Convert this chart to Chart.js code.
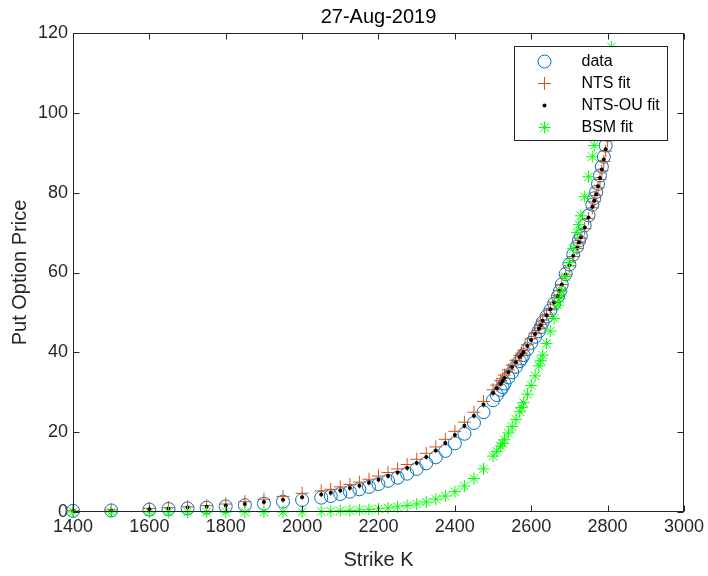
<!DOCTYPE html>
<html>
<head>
<meta charset="utf-8">
<script src="https://cdn.jsdelivr.net/npm/chart.js@4.4.1/dist/chart.umd.min.js"></script>
<style>
html,body{margin:0;padding:0;background:#fff}
</style>
</head>
<body>
<canvas id="c" width="708" height="576"></canvas>
<script>
// strikes (x) and put prices
var strikes=[1400,1500,1600,1650,1700,1750,1800,1850,1900,1950,2000,2050,2075,2100,2125,2150,2175,2200,2225,2250,2275,2300,2325,2350,2375,2400,2425,2450,2475,2500,2510,2520,2525,2530,2540,2550,2560,2570,2575,2580,2590,2600,2610,2620,2625,2630,2640,2650,2660,2670,2675,2680,2690,2700,2710,2720,2725,2730,2740,2750,2760,2765,2770,2775,2780,2785,2790,2795,2800,2805,2810];
var dataPrice=[0.3,0.4,0.6,0.75,0.9,1.1,1.4,1.7,2.1,2.6,3.0,3.6,4.0,4.5,5.1,5.7,6.3,7.0,7.8,8.6,9.6,10.8,12.2,13.7,15.3,17.2,19.6,22.3,25.0,28.0,29.3,30.6,31.3,32.2,33.7,35.0,36.4,37.8,38.5,39.3,40.8,42.4,43.9,45.3,46.3,47.5,49.0,50.5,52.2,54.0,55.3,57.0,59.6,62.0,64.5,66.5,68.0,69.2,71.8,74.3,77.0,78.6,80.2,82.2,84.3,86.5,89.0,91.8,94.5,97.2,100.0];
var ntsFit=[0.3,0.5,0.9,1.1,1.3,1.6,2.0,2.6,3.2,3.9,4.7,5.3,5.7,6.3,6.9,7.5,8.2,9.0,9.9,10.8,11.9,13.2,14.7,16.3,18.2,20.2,22.5,25.0,27.7,30.6,31.8,32.9,33.5,34.3,35.6,36.8,38.0,39.2,39.8,40.5,41.9,43.4,44.8,46.1,47.0,48.1,49.5,51.0,52.6,54.3,55.5,57.0,59.4,61.7,64.0,66.0,67.4,68.6,71.0,73.5,76.2,77.7,79.3,81.2,83.3,85.4,87.8,90.4,93.0,95.6,98.3];
var ntsouFit=[0.3,0.4,0.7,0.9,1.1,1.3,1.6,2.0,2.5,3.1,3.7,4.4,4.8,5.4,6.0,6.6,7.3,8.1,9.0,9.9,11.0,12.3,13.8,15.4,17.3,19.3,21.6,24.1,26.9,29.8,31.0,32.1,32.8,33.6,35.0,36.3,37.5,38.8,39.4,40.1,41.6,43.1,44.6,45.9,46.8,47.9,49.3,50.8,52.5,54.2,55.4,57.0,59.5,61.9,64.2,66.2,67.6,68.8,71.3,73.8,76.5,78.0,79.6,81.6,83.7,85.8,88.3,90.9,93.5,96.2,98.8];
var bsmFit=[0,0,0,0,0,0,0,0,0,0,0.05,0.15,0.2,0.3,0.4,0.5,0.6,0.8,1.0,1.3,1.6,2.0,2.5,3.2,4.0,5.1,6.5,8.4,10.8,14.0,15.2,16.5,17.2,18.1,19.8,21.4,23.2,25.1,26.2,27.4,29.5,31.7,34.1,36.6,37.9,39.3,42.2,45.3,48.5,51.8,53.5,55.3,59.0,62.5,66.0,70.0,72.0,74.2,79.0,84.0,89.0,91.8,94.5,97.3,100.2,103.0,106.0,109.0,112.0,114.5,116.5];
var xTicks=[1400,1600,1800,2000,2200,2400,2600,2800,3000];
var yTicks=[0,20,40,60,80,100,120];
var seriesNames=['data','NTS fit','NTS-OU fit','BSM fit'];

var axisCol='#262626';
var fontFam='"Liberation Sans", Arial, Helvetica, sans-serif';

function pts(ys){
  var out=[];
  for(var i=0;i<strikes.length;i++) out.push({x:strikes[i],y:ys[i]});
  return out;
}

// draws one legend marker like the dataset's point style
function drawMarker(ctx,kind,x,y){
  ctx.beginPath();
  if(kind==0){ ctx.strokeStyle='#0072BD'; ctx.arc(x,y,6.5,0,Math.PI*2); ctx.stroke(); }
  else if(kind==1){ ctx.strokeStyle='#D95319'; ctx.moveTo(x-6.5,y); ctx.lineTo(x+6.5,y); ctx.moveTo(x,y-6.5); ctx.lineTo(x,y+6.5); ctx.stroke(); }
  else if(kind==2){ ctx.fillStyle='#000'; ctx.arc(x,y,2,0,Math.PI*2); ctx.fill(); }
  else { ctx.strokeStyle='#00FF00'; var d=6*Math.SQRT1_2;
    ctx.moveTo(x-6,y); ctx.lineTo(x+6,y); ctx.moveTo(x,y-6); ctx.lineTo(x,y+6);
    ctx.moveTo(x-d,y-d); ctx.lineTo(x+d,y+d); ctx.moveTo(x-d,y+d); ctx.lineTo(x+d,y-d); ctx.stroke(); }
}

// box, inward ticks and the boxed legend (matlab look)
var matlabAxes={
  id:'matlabAxes',
  afterDatasetsDraw:function(chart){
    var ctx=chart.ctx, a=chart.chartArea, xs=chart.scales.x, ys=chart.scales.y;
    var L=Math.round(a.left)+0.5, R=Math.round(a.right)-0.5, T=Math.round(a.top)+0.5, B=Math.round(a.bottom)-0.5;
    ctx.save();
    ctx.strokeStyle=axisCol; ctx.lineWidth=1;
    ctx.strokeRect(L,T,R-L,B-T);
    ctx.beginPath();
    xTicks.forEach(function(v){
      var p=Math.round(xs.getPixelForValue(v))+0.5;
      ctx.moveTo(p,B); ctx.lineTo(p,B-6);
      ctx.moveTo(p,T); ctx.lineTo(p,T+6);
    });
    yTicks.forEach(function(v){
      var p=Math.round(ys.getPixelForValue(v))+0.5;
      ctx.moveTo(L,p); ctx.lineTo(L+6,p);
      ctx.moveTo(R,p); ctx.lineTo(R-6,p);
    });
    ctx.stroke();

    // legend
    var bx=Math.round(a.right)-169.5, by=Math.round(a.top)+13.5, bw=153, bh=94;
    ctx.fillStyle='#fff';
    ctx.fillRect(bx,by,bw,bh);
    ctx.strokeStyle=axisCol;
    ctx.strokeRect(bx,by,bw,bh);
    ctx.font='16px '+fontFam;
    ctx.textBaseline='middle';
    ctx.textAlign='left';
    for(var i=0;i<seriesNames.length;i++){
      var yy=by+15+i*22;
      ctx.lineWidth=1;
      drawMarker(ctx,i,bx+30,yy);
      ctx.fillStyle='#000';
      ctx.fillText(seriesNames[i],bx+67,yy);
    }
    ctx.restore();
  }
};

function plainTick(v){ return String(v); }

new Chart(document.getElementById('c'),{
  type:'scatter',
  data:{
    datasets:[
      {label:seriesNames[0],data:pts(dataPrice),pointStyle:'circle',pointRadius:6.5,backgroundColor:'rgba(0,0,0,0)',borderColor:'#0072BD',borderWidth:1,order:4,clip:false},
      {label:seriesNames[1],data:pts(ntsFit),pointStyle:'cross',pointRadius:6.5,backgroundColor:'#D95319',borderColor:'#D95319',borderWidth:1,order:3,clip:false},
      {label:seriesNames[2],data:pts(ntsouFit),pointStyle:'circle',pointRadius:2,backgroundColor:'#000',borderColor:'#000',borderWidth:0,order:2,clip:false},
      {label:seriesNames[3],data:pts(bsmFit),pointStyle:'star',pointRadius:6,backgroundColor:'#00FF00',borderColor:'#00FF00',borderWidth:1,order:1,clip:false}
    ]
  },
  options:{
    responsive:false,
    animation:false,
    layout:{padding:{left:0,right:23,top:0,bottom:0}},
    plugins:{
      legend:{display:false},
      tooltip:{enabled:false},
      title:{display:true,fullSize:false,text:'27-Aug-2019',color:'#000',font:{family:fontFam,size:20,weight:'normal'},padding:{top:5,bottom:4}}
    },
    scales:{
      x:{
        type:'linear',min:1400,max:3000,
        afterFit:function(s){s.height=64;},
        afterBuildTicks:function(s){s.ticks=xTicks.map(function(v){return {value:v};});},
        grid:{display:false,drawTicks:false},
        border:{display:false},
        ticks:{color:axisCol,padding:4,font:{family:fontFam,size:18},maxRotation:0,callback:plainTick},
        title:{display:true,text:'Strike K',color:axisCol,font:{family:fontFam,size:20},padding:{top:0,bottom:4}}
      },
      y:{
        type:'linear',min:0,max:120,
        afterFit:function(s){s.width=73;},
        afterBuildTicks:function(s){s.ticks=yTicks.map(function(v){return {value:v};});},
        grid:{display:false,drawTicks:false},
        border:{display:false},
        ticks:{color:axisCol,padding:5,font:{family:fontFam,size:18},callback:plainTick},
        title:{display:true,text:'Put Option Price',color:axisCol,font:{family:fontFam,size:20},padding:{top:8,bottom:0}}
      }
    }
  },
  plugins:[matlabAxes]
});
</script>
</body>
</html>
